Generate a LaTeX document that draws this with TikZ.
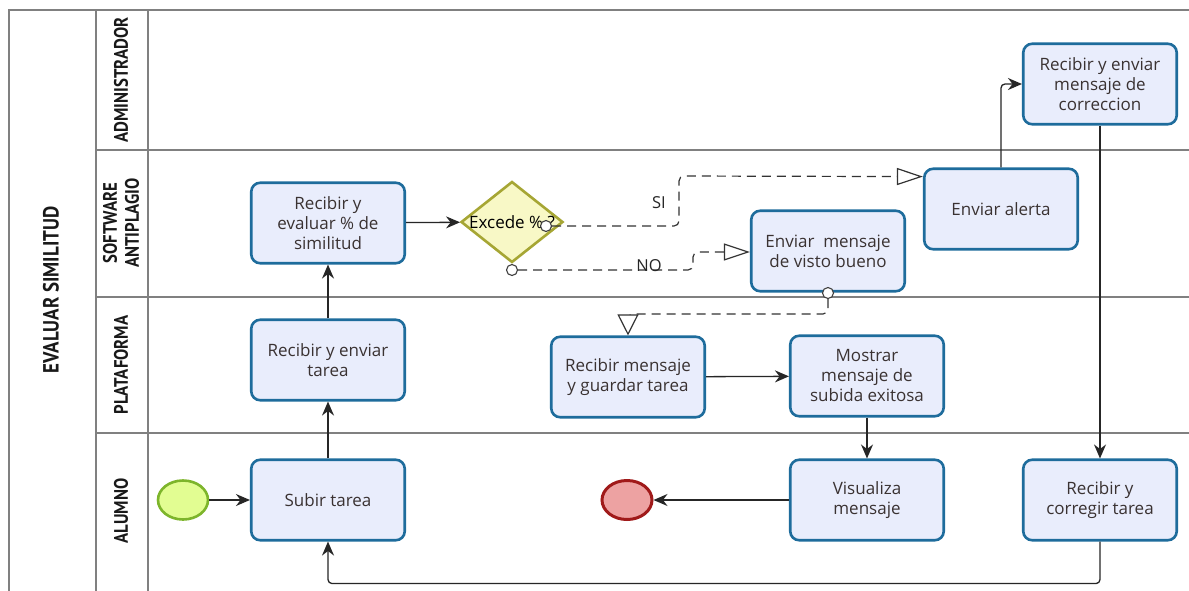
\documentclass[tikz,border=0pt]{standalone}
\usepackage{fontspec}
\setmainfont{Open Sans}
\newfontfamily\lanefont[FakeStretch=0.86]{PT Sans}
\usetikzlibrary{arrows.meta,shapes.geometric,calc}
\definecolor{boxfill}{HTML}{E9EDFC}
\definecolor{boxline}{HTML}{1E6C9C}
\definecolor{txt}{HTML}{3A3232}
\definecolor{poolgray}{HTML}{808080}
\definecolor{startfill}{HTML}{E2FD92}
\definecolor{startline}{HTML}{7DB52B}
\definecolor{endfill}{HTML}{EDA2A2}
\definecolor{endline}{HTML}{A01A1A}
\definecolor{gwfill}{HTML}{F8F8C6}
\definecolor{gwline}{HTML}{A6A634}
\tikzset{
  task/.style={draw=boxline, line width=2.6pt, fill=boxfill, rounded corners=9pt,
    minimum width=153.5pt, minimum height=80.5pt, align=center, inner sep=0pt,
    font=\fontsize{17}{20}\selectfont, text=txt},
  poolline/.style={draw=poolgray, line width=1.8pt},
  laneline/.style={draw=poolgray, line width=1.5pt},
  lanelabel/.style={rotate=90, align=center, font=\lanefont\bfseries\fontsize{19.5}{21}\selectfont, text=black!90},
  flow/.style={draw=black!85, line width=1.3pt, rounded corners=4pt, -{Stealth[length=14pt,width=12pt]}},
  msg/.style={draw=black!80, line width=1.2pt, dash pattern=on 9pt off 6pt, rounded corners=5pt,
    -{Triangle[open,length=26pt,width=17pt,fill=white]}},
  msgdown/.style={msg, -{Triangle[open,length=21pt,width=21pt,fill=white]}},
  msgstart/.style={circle, draw=black!75, line width=1.1pt, fill=white, minimum size=11pt, inner sep=0pt},
  lbl/.style={font=\fontsize{16.5}{18}\selectfont, text=black!85, inner sep=0pt}
}
\begin{document}
\begin{tikzpicture}[x=1pt,y=-1pt]
\useasboundingbox (0,0) rectangle (1189,590);
\fill[white] (0,0) rectangle (1189,590);
% pool and lanes
\draw[poolline] (9,592) -- (9,10) -- (1189,10);
\draw[poolline] (96,10) -- (96,592);
\draw[poolline] (148,10) -- (148,592);
\draw[laneline] (96,150) -- (1189,150);
\draw[laneline] (96,297) -- (1189,297);
\draw[laneline] (96,433) -- (1189,433);
\node[lanelabel, font=\lanefont\bfseries\fontsize{22}{24}\selectfont] (pool) at (51,290) {EVALUAR SIMILITUD};
\node[lanelabel] (lA) at (121,80) {ADMINISTRADOR};
\node[lanelabel, font=\lanefont\bfseries\fontsize{19.5}{22}\selectfont] (lS) at (121,223) {SOFTWARE\\ANTIPLAGIO};
\node[lanelabel] (lP) at (121,365) {PLATAFORMA};
\node[lanelabel] (lU) at (121,511) {ALUMNO};
% events
\node[ellipse, draw=startline, fill=startfill, line width=2.6pt, minimum width=50pt, minimum height=39pt, inner sep=0pt] (start) at (183,500) {};
\node[ellipse, draw=endline, fill=endfill, line width=3pt, minimum width=50pt, minimum height=39pt, inner sep=0pt] (end) at (627,500) {};
% tasks
\node[task] (subir) at (328,500) {Subir tarea};
\node[task] (ret) at (328,360) {Recibir y enviar\\tarea};
\node[task] (eval) at (328,223) {Recibir y\\evaluar \% de\\similitud};
\node[task] (alerta) at (1001,209) {Enviar alerta};
\node[task] (vb) at (828,251) {Enviar~ mensaje\\de visto bueno};
\node[task] (corr) at (1100,84) {Recibir y enviar\\mensaje de\\correccion};
\node[task] (rm) at (628,377) {Recibir mensaje\\y guardar tarea};
\node[task] (most) at (867,376) {Mostrar\\mensaje de\\subida exitosa};
\node[task] (vis) at (867,500) {Visualiza\\mensaje};
\node[task] (rc) at (1100,500) {Recibir y\\corregir tarea};
% gateway
\node[diamond, draw=gwline, fill=gwfill, line width=2.6pt, minimum width=102pt, minimum height=81pt, inner sep=0pt] (gw) at (512,222) {};
\node[lbl, text=black, font=\fontsize{17}{18}\selectfont] (gwt) at (gw.center) {Excede \% ?};
% sequence flows
\draw[flow] (start) -- (subir);
\draw[flow] (subir) -- (ret);
\draw[flow] (ret) -- (eval);
\draw[flow] (eval) -- (gw);
\draw[flow] (rm) -- (most);
\draw[flow] (most) -- (vis);
\draw[flow] (vis) -- (end);
\draw[flow] (alerta.north) |- (corr.west);
\draw[flow] (corr.south) -- (rc.north);
\draw[flow] (rc.south) -- ++(0,42) -| (subir.south);
% message flows
\node[msgstart] (c1) at (546,226) {};
\node[msgstart] (c2) at (512,270) {};
\node[msgstart] (c3) at (828,293) {};
\draw[msg] (c1) -- (679,226) -- (679,176) -- ($(alerta.north west)!0.11!(alerta.south west)$);
\draw[msg] (c2) -- (693,270) -- (693,252) -- (vb.west |- 0,252);
\draw[msgdown] (c3) -- (828,314) -| (rm.north);
\node[lbl] (si) at (659,203) {SI};
\node[lbl] (no) at (649,266) {NO};
\end{tikzpicture}
\end{document}
